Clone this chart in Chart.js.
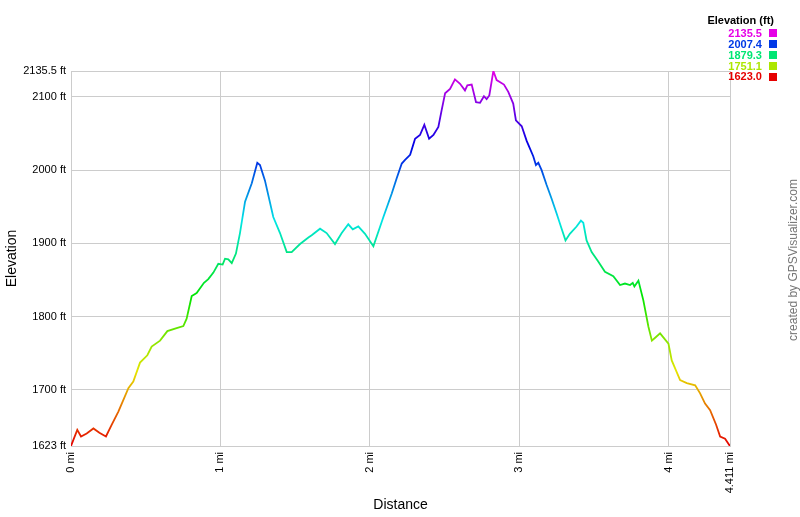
<!DOCTYPE html>
<html>
<head>
<meta charset="utf-8">
<title>Elevation profile</title>
<script src="https://cdn.jsdelivr.net/npm/chart.js@4.4.1/dist/chart.umd.min.js"></script>
<style>
body { margin:0; background:#fff; font-family:"Liberation Sans", Arial, sans-serif; }
#wrap { position:relative; width:800px; height:517px; }
#chart { position:absolute; left:0; top:0; }
.lg-title { position:absolute; right:26px; top:14px; font-size:11px; line-height:12px; font-weight:bold; color:#000; }
.lg-row { position:absolute; right:23px; height:11px; line-height:11px; font-size:11px; font-weight:bold; display:flex; align-items:center; }
.lg-row i { display:inline-block; width:8px; height:8px; margin-left:7px; }
#credit { position:absolute; left:693px; top:253px; width:200px; height:14px; line-height:14px; text-align:center; font-size:12px; color:#777; transform:rotate(-90deg); transform-origin:center; white-space:nowrap; }
</style>
</head>
<body>
<div id="wrap">
    <canvas id="chart" width="800" height="517"></canvas>
    <div id="legend"></div>
    <div id="credit">created by GPSVisualizer.com</div>
</div>
<script>
// distance along the track (mi) and elevation (ft)
var distance = [0, 0.042, 0.067, 0.105, 0.15, 0.19, 0.234, 0.272, 0.317, 0.355, 0.384, 0.417, 0.462, 0.511, 0.54, 0.596, 0.645,
    0.707, 0.752, 0.774, 0.808, 0.841, 0.89, 0.919, 0.953, 0.986, 1.015, 1.031, 1.053, 1.076, 1.104, 1.131, 1.165, 1.21, 1.247,
    1.265, 1.298, 1.354, 1.399, 1.444, 1.477, 1.533, 1.589, 1.611, 1.667, 1.711, 1.767, 1.812, 1.856, 1.886, 1.923, 1.968, 2.024,
    2.091, 2.147, 2.18, 2.214, 2.236, 2.27, 2.303, 2.336, 2.365, 2.397, 2.426, 2.459, 2.481, 2.504, 2.537, 2.57, 2.604, 2.637,
    2.653, 2.682, 2.711, 2.738, 2.764, 2.782, 2.8, 2.827, 2.849, 2.898, 2.927, 2.96, 2.978, 3.017, 3.05, 3.094, 3.112, 3.128,
    3.15, 3.183, 3.217, 3.25, 3.284, 3.31, 3.339, 3.384, 3.413, 3.429, 3.451, 3.485, 3.529, 3.574, 3.63, 3.675, 3.708, 3.742,
    3.76, 3.771, 3.798, 3.831, 3.865, 3.888, 3.91, 3.943, 3.999, 4.021, 4.077, 4.122, 4.178, 4.211, 4.244, 4.278, 4.318, 4.345,
    4.378, 4.407, 4.411]
var elevation = [1623, 1645, 1636, 1640, 1647, 1641, 1636, 1652, 1670, 1688, 1702, 1711, 1737, 1747, 1759, 1767, 1780,
    1784, 1787, 1797, 1828, 1832, 1846, 1851, 1860, 1872, 1871, 1879, 1878, 1873, 1886, 1914, 1957, 1982, 2010,
    2007, 1986, 1936, 1914, 1888, 1888, 1899, 1908, 1911, 1920, 1914, 1899, 1914, 1926, 1919, 1923, 1913, 1896,
    1936, 1968, 1989, 2009, 2014, 2021, 2043, 2048, 2062, 2043, 2048, 2059, 2082, 2105, 2111, 2124, 2118, 2109,
    2116, 2117, 2093, 2092, 2101, 2097, 2102, 2135.5, 2123, 2117, 2107, 2091, 2068, 2060, 2040, 2019, 2007, 2010,
    2000, 1980, 1961, 1941, 1920, 1904, 1913, 1923, 1931, 1928, 1904, 1888, 1875, 1861, 1855, 1843, 1845, 1843,
    1846, 1841, 1849, 1822, 1786, 1767, 1771, 1777, 1763, 1740, 1713, 1709, 1706, 1695, 1681, 1672, 1652, 1636,
    1633, 1624, 1623]

var xTicks = [0, 1, 2, 3, 4, 4.411]
var yTicks = [1623, 1700, 1800, 1900, 2000, 2100, 2135.5]
var legendValues = [2135.5, 2007.4, 1879.3, 1751.1, 1623.0]

var minElev = yTicks[0]
var maxElev = yTicks[yTicks.length - 1]

// red at the lowest point through to magenta at the top
function elevColor(v){
    var h = 300 * (v - minElev) / (maxElev - minElev)
    return 'hsl(' + h + ',100%,45%)'
}

//Legend in the top right corner
var legend = document.getElementById('legend')
var t = document.createElement('div')
t.className = 'lg-title'
t.textContent = 'Elevation (ft)'
legend.appendChild(t)
legendValues.forEach(function(v, i){
    var row = document.createElement('div')
    row.className = 'lg-row'
    row.style.top = (27.8 + i * 10.9) + 'px'
    row.innerHTML = '<span style="color:' + elevColor(v) + '">' + v.toFixed(1) + '</span><i style="background:' + elevColor(v) + '"></i>'
    legend.appendChild(row)
})

Chart.defaults.font.family = '"Liberation Sans", Arial, sans-serif'
Chart.defaults.color = '#000'

var points = distance.map(function(d, i){ return {x: d, y: elevation[i]} })

var chart = new Chart(document.getElementById('chart'), {
    type: 'line',
    data: {
        datasets: [{
            data: points,
            borderWidth: 1.8,
            pointRadius: 0,
            tension: 0,
            fill: false,
            borderColor: function(context){
                var ca = context.chart.chartArea
                if (!ca) return '#e60000'
                var g = context.chart.ctx.createLinearGradient(0, ca.bottom, 0, ca.top)
                for (var i = 0; i <= 10; i++) {
                    g.addColorStop(i / 10, elevColor(minElev + (maxElev - minElev) * i / 10))
                }
                return g
            }
        }]
    },
    options: {
        responsive: false,
        animation: false,
        devicePixelRatio: 1,
        layout: { padding: { top: 71, right: 70, left: 0, bottom: 0 } },
        plugins: { legend: { display: false }, tooltip: { enabled: false } },
        scales: {
            x: {
                type: 'linear',
                min: xTicks[0],
                max: xTicks[xTicks.length - 1],
                afterBuildTicks: function(s){ s.ticks = xTicks.map(function(v){ return {value: v} }) },
                afterFit: function(s){ s.height = 71 },
                ticks: {
                    minRotation: 90, maxRotation: 90, autoSkip: false, padding: 6,
                    font: { size: 11 },
                    callback: function(v){ return v + ' mi' }
                },
                grid: { color: '#cccccc', drawTicks: false },
                border: { color: '#cccccc' },
                title: { display: true, text: 'Distance', font: { size: 14 }, padding: { top: 0, bottom: 3 } }
            },
            y: {
                min: minElev,
                max: maxElev,
                afterBuildTicks: function(s){ s.ticks = yTicks.map(function(v){ return {value: v} }) },
                afterFit: function(s){ s.width = 71 },
                ticks: {
                    padding: 5,
                    font: { size: 11 },
                    callback: function(v){ return v + ' ft' }
                },
                grid: { color: '#cccccc', drawTicks: false },
                border: { color: '#cccccc' },
                title: { display: true, text: 'Elevation', font: { size: 14 }, padding: { top: 4, bottom: 0 } }
            }
        }
    }
})
</script>
</body>
</html>
